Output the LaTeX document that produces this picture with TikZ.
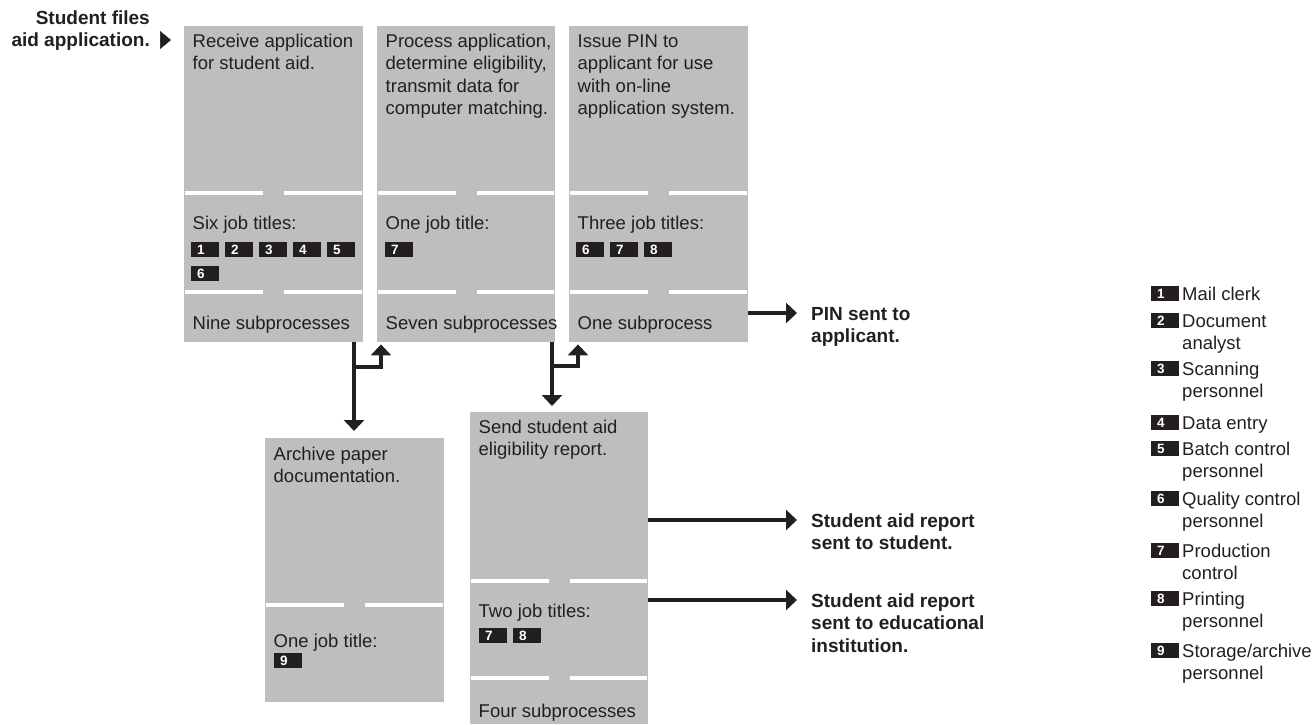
\documentclass[tikz,border=0pt]{standalone}
\usepackage{fontspec}
\setmainfont{Liberation Sans}
\usetikzlibrary{arrows.meta}

\definecolor{boxgray}{RGB}{188,190,192}
\definecolor{ink}{RGB}{35,31,32}
\newcommand{\boxfont}{\fontsize{18.5}{22.5}\selectfont}
\newcommand{\outfont}{\fontsize{19}{22.5}\selectfont\bfseries}
\newcommand{\numfont}{\fontsize{13.5}{14}\selectfont\bfseries}
% white split line across a box, with a gap in the middle
\newcommand{\gapline}[3]{%
  \draw[divider] (#1+1, #3) -- ({(#1+#2)/2-10.5}, #3);
  \draw[divider] ({(#1+#2)/2+10.5}, #3) -- (#2-1, #3);}

\begin{document}
\begin{tikzpicture}[
		x=1pt, y=-1pt,
		stage/.style={rectangle, fill=boxgray, inner sep=0pt, anchor=north west},
		txt/.style={anchor=north west, inner sep=0pt, align=left, font=\boxfont, text=ink},
		outtxt/.style={anchor=north west, inner sep=0pt, align=left, font=\outfont, text=ink},
		badge/.style={rectangle, fill=ink, text=white, font=\numfont, inner xsep=6pt, inner ysep=0pt,
			text width=16pt, align=left, minimum height=14.5pt, anchor=north west},
		divider/.style={white, line width=3.5pt},
		flow/.style={ink, line width=3.2pt, -{Triangle[width=20pt, length=11pt]}}
	]
  \useasboundingbox (0, 0) rectangle (1316, 724);

  % process boxes
  \node (recv) [stage, minimum width=179pt, minimum height=316pt] at (184, 26) {};
  \node (proc) [stage, minimum width=178pt, minimum height=316pt] at (377, 26) {};
  \node (issue) [stage, minimum width=179pt, minimum height=316pt] at (569, 26) {};
  \node (archive) [stage, minimum width=179pt, minimum height=264pt] at (265, 438) {};
  \node (send) [stage, minimum width=178pt, minimum height=312pt] at (470, 412) {};

  \gapline{184}{363}{193} \gapline{184}{363}{292}
  \gapline{377}{555}{193} \gapline{377}{555}{292}
  \gapline{569}{748}{193} \gapline{569}{748}{292}
  \gapline{265}{444}{605}
  \gapline{470}{648}{581} \gapline{470}{648}{678}

  % texts in the boxes
  \node (recv_t) [txt] at (192.5, 31.25) {\strut Receive application\\for student aid.};
  \node (recv_j) [txt] at (192.5, 213.25) {\strut Six job titles:};
  \node (recv_s) [txt] at (192.5, 313.25) {\strut Nine subprocesses};
  \node (proc_t) [txt] at (385.5, 31.25) {\strut Process application,\\determine eligibility,\\transmit data for\\computer matching.};
  \node (proc_j) [txt] at (385.5, 213.25) {\strut One job title:};
  \node (proc_s) [txt] at (385.5, 313.25) {\strut Seven subprocesses};
  \node (issue_t) [txt] at (577.5, 31.25) {\strut Issue PIN to\\applicant for use\\with on-line\\application system.};
  \node (issue_j) [txt] at (577.5, 213.25) {\strut Three job titles:};
  \node (issue_s) [txt] at (577.5, 313.25) {\strut One subprocess};
  \node (archive_t) [txt] at (273.5, 444.25) {\strut Archive paper\\documentation.};
  \node (archive_j) [txt] at (273.5, 631.25) {\strut One job title:};
  \node (send_t) [txt] at (478.5, 417.25) {\strut Send student aid\\eligibility report.};
  \node (send_j) [txt] at (478.5, 601.25) {\strut Two job titles:};
  \node (send_s) [txt] at (478.5, 701.25) {\strut Four subprocesses};

  % job title badges
  \node (rb1) [badge] at (191, 242) {1};
  \node (rb2) [badge] at (225, 242) {2};
  \node (rb3) [badge] at (259, 242) {3};
  \node (rb4) [badge] at (293, 242) {4};
  \node (rb5) [badge] at (327, 242) {5};
  \node (rb6) [badge] at (191, 266) {6};
  \node (pb7) [badge] at (385, 242) {7};
  \node (ib6) [badge] at (576, 242) {6};
  \node (ib7) [badge] at (610, 242) {7};
  \node (ib8) [badge] at (644, 242) {8};
  \node (ab9) [badge] at (274, 653) {9};
  \node (sb7) [badge] at (479, 628) {7};
  \node (sb8) [badge] at (513, 628) {8};

  % in and out
  \node (intro) [outtxt, anchor=north east, align=right] at (150, 8.25) {\strut Student files\\aid application.};
  \node (pin) [outtxt] at (811, 304.25) {\strut PIN sent to\\applicant.};
  \node (stud) [outtxt] at (811, 511.25) {\strut Student aid report\\sent to student.};
  \node (inst) [outtxt] at (811, 591.25) {\strut Student aid report\\sent to educational\\institution.};

  \coordinate (introin) at (171, 40);
  \coordinate (pinin) at (797, 313);
  \coordinate (studin) at (797, 520);
  \coordinate (instin) at (797, 600);
  \coordinate (split1) at (354, 367);
  \coordinate (back1) at (381, 367);
  \coordinate (split2) at (552, 366);
  \coordinate (back2) at (578, 366);

  \draw[ink, line width=0.5pt, -{Triangle[width=18pt, length=11pt]}] (intro.east |- introin) ++(10, 0) -- (introin);
  \draw[flow, shorten >=7pt] (recv.south -| split1) -- (archive.north -| split1);
  \draw[flow, shorten >=2pt] (split1) -- (back1) -- (proc.south -| back1);
  \draw[flow, shorten >=6pt] (proc.south -| split2) -- (send.north -| split2);
  \draw[flow, shorten >=2pt] (split2) -- (back2) -- (issue.south -| back2);
  \draw[flow] (issue.east |- pinin) -- (pinin);
  \draw[flow] (send.east |- studin) -- (studin);
  \draw[flow] (send.east |- instin) -- (instin);

  % key to job titles
  \node (key1) [badge, anchor=west] at (1151, 293.5) {1};
  \node (key2) [badge, anchor=west] at (1151, 320.5) {2};
  \node (key3) [badge, anchor=west] at (1151, 368.5) {3};
  \node (key4) [badge, anchor=west] at (1151, 422.5) {4};
  \node (key5) [badge, anchor=west] at (1151, 448.5) {5};
  \node (key6) [badge, anchor=west] at (1151, 498.5) {6};
  \node (key7) [badge, anchor=west] at (1151, 550.5) {7};
  \node (key8) [badge, anchor=west] at (1151, 598.5) {8};
  \node (key9) [badge, anchor=west] at (1151, 650.5) {9};
  \node (kt1) [txt] at (1182, 284.25) {\strut Mail clerk};
  \node (kt2) [txt] at (1182, 311.25) {\strut Document\\analyst};
  \node (kt3) [txt] at (1182, 359.25) {\strut Scanning\\personnel};
  \node (kt4) [txt] at (1182, 413.25) {\strut Data entry};
  \node (kt5) [txt] at (1182, 439.25) {\strut Batch control\\personnel};
  \node (kt6) [txt] at (1182, 489.25) {\strut Quality control\\personnel};
  \node (kt7) [txt] at (1182, 541.25) {\strut Production\\control};
  \node (kt8) [txt] at (1182, 589.25) {\strut Printing\\personnel};
  \node (kt9) [txt] at (1182, 641.25) {\strut Storage/archive\\personnel};
\end{tikzpicture}
\end{document}
